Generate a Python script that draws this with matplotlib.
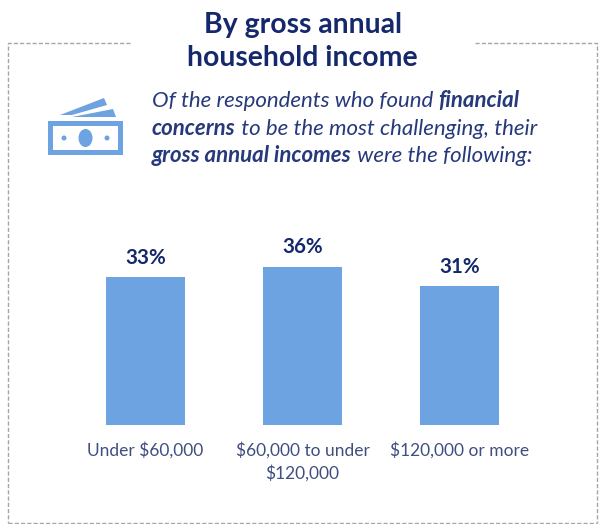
import matplotlib
matplotlib.use("Agg")
import matplotlib.pyplot as plt
from matplotlib.patches import Polygon, Rectangle, Ellipse

plt.rcParams['font.family'] = ['Lato', 'DejaVu Sans']

categories = ["Under $60,000", "$60,000 to under\n$120,000", "$120,000 or more"]
values = [33.2, 35.6, 31.2]
title_lines = ["By gross annual", "household income"]
# (text, bold) runs for each line of the intro
intro_lines = [
    [("Of the respondents who found ", False), ("financial", True)],
    [("concerns", True), (" to be the most challenging, their", False)],
    [("gross annual incomes", True), (" were the following:", False)],
]

navy = "#14286b"
intro_col = "#26397a"
label_col = "#3f4f80"
blue = "#6ca3e0"
gray = "#a6a6a6"

W, H = 600, 524
fig = plt.figure(figsize=(6.0, 5.24), dpi=100)

# overlay in pixel coords for the frame, icon and text
bg = fig.add_axes([0, 0, 1, 1])
bg.set_xlim(0, W)
bg.set_ylim(H, 0)
bg.axis("off")

# dashed frame, open at the top behind the title
for xs, ys in [([130, 8, 8], [43, 43, 523]),
               ([475, 597, 597], [43, 43, 523]),
               ([8, 597], [523, 523])]:
    bg.plot(xs, ys, color=gray, lw=1, ls=(0, (3, 1.5)), solid_capstyle="butt")

# title
bg.text(302.5, 25.5, title_lines[0], ha="center", va="center", fontsize=20.4, fontweight="bold", color=navy)
bg.text(302.5, 58.5, title_lines[1], ha="center", va="center", fontsize=20.4, fontweight="bold", color=navy)

# banknote icon
bg.add_patch(Polygon([[60, 115], [104, 98], [107, 105], [72, 115]], fc=blue, ec="none"))
bg.add_patch(Polygon([[72, 117], [113, 109], [116, 117]], fc=blue, ec="none"))
bg.add_patch(Rectangle((48, 121), 75, 34, fc=blue, ec="none"))
bg.add_patch(Rectangle((53, 126), 65, 24, fc="white", ec="none"))
bg.add_patch(Ellipse((85.5, 138), 14, 18, fc=blue, ec="none"))
bg.add_patch(Ellipse((64, 138), 5, 5, fc=blue, ec="none"))
bg.add_patch(Ellipse((107, 138), 5, 5, fc=blue, ec="none"))

# intro text, placing the bold and regular runs one after another
renderer = fig.canvas.get_renderer()
for baseline, x0, runs in zip([107, 135, 162], [152, 152, 152], intro_lines):
    x = x0
    for s, is_bold in runs:
        t = bg.text(x, baseline, s, ha="left", va="baseline", fontsize=16, style="italic",
                    fontweight="bold" if is_bold else "normal", color=intro_col)
        t.set_text(s.replace(" ", "\u00a0"))
        x += t.get_window_extent(renderer).width

# bars
ax = fig.add_axes([67 / W, 1 - 425 / H, 471 / W, 200 / H])
pos = list(range(len(values)))
bars = ax.bar(pos, values, width=0.503, color=blue)
ax.set_xlim(-0.5, 2.5)
ax.set_ylim(0, 45)
ax.patch.set_alpha(0)
for s in ax.spines.values():
    s.set_visible(False)
ax.set_yticks([])
ax.set_xticks(pos)
ax.set_xticklabels(categories, fontsize=12.5, color=label_col, linespacing=1.45)
ax.tick_params(axis="x", length=0, pad=12)
for b, v in zip(bars, values):
    ax.annotate(str(round(v)) + "%", (b.get_x() + b.get_width() / 2, v), xytext=(0, 7),
                textcoords="offset points", ha="center", va="bottom",
                fontsize=14.8, fontweight="bold", color=navy)

fig.savefig("out.png", dpi=100)
